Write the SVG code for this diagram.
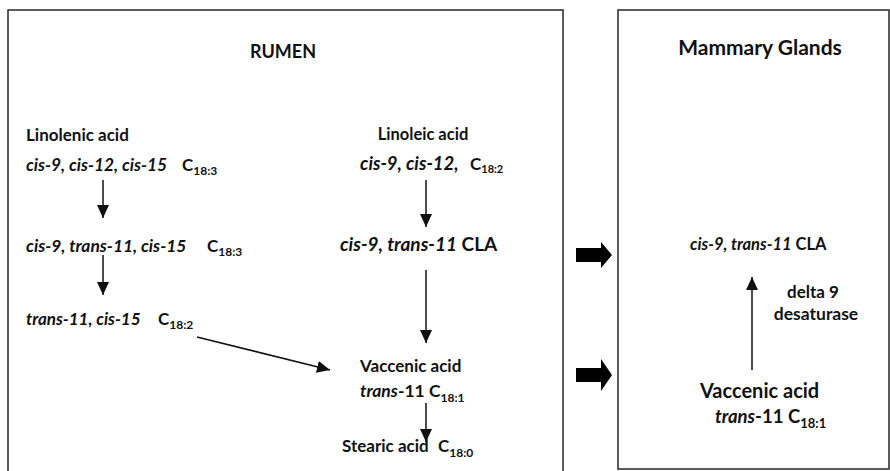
<svg xmlns="http://www.w3.org/2000/svg" width="890" height="471" viewBox="0 0 890 471">
<defs>
<marker id="ah" viewBox="0 0 13 12" refX="13" refY="6" markerWidth="13" markerHeight="12" markerUnits="userSpaceOnUse" orient="auto">
<path d="M0,0 L13,6 L0,12 z" fill="#111"/>
</marker>
</defs>
<style>
.box{fill:#fff;stroke:#333;stroke-width:1.6}
text{font-family:Lato,"Liberation Sans",sans-serif;font-weight:bold;fill:#111;font-size:17px}
.i{font-style:italic}
.sub{font-size:12px}
.line{stroke:#111;stroke-width:1.5;fill:none;marker-end:url(#ah)}
.fat{fill:#000}
</style>
<rect width="890" height="471" fill="#fff"/>
<g id="rumen">
<rect class="box" x="8" y="10" width="555" height="470"/>
<text x="283" y="58" text-anchor="middle" style="font-size:18px">RUMEN</text>
</g>
<g id="mammary">
<rect class="box" x="618" y="10" width="271" height="459"/>
<text x="760" y="55" text-anchor="middle" style="font-size:21px">Mammary Glands</text>
</g>
<g id="linolenic">
<text x="26" y="141">Linolenic acid</text>
<text class="i" x="26" y="171" style="font-size:17.3px">cis-9, cis-12, cis-15</text>
<text x="182" y="171">C<tspan class="sub" dy="4">18:3</tspan></text>
</g>
<g id="c18-3-t11">
<text class="i" x="26" y="252" style="font-size:17.4px">cis-9, trans-11, cis-15</text>
<text x="207" y="252">C<tspan class="sub" dy="4">18:3</tspan></text>
</g>
<g id="c18-2-t11">
<text class="i" x="26" y="325">trans-11, cis-15</text>
<text x="158" y="325">C<tspan class="sub" dy="4">18:2</tspan></text>
</g>
<g id="linoleic">
<text x="423" y="140" text-anchor="middle" style="font-size:16.5px">Linoleic acid</text>
<text class="i" x="360" y="170" style="font-size:18.5px">cis-9, cis-12,</text>
<text x="470" y="170">C<tspan style="font-size:11px" dy="3">18:2</tspan></text>
</g>
<g id="cla-rumen">
<text x="340" y="251" style="font-size:19px"><tspan class="i">cis-9, trans-11</tspan> CLA</text>
</g>
<g id="vaccenic-rumen">
<text x="360" y="372">Vaccenic acid</text>
<text x="360" y="397" style="font-size:17.5px"><tspan class="i">trans</tspan>-11 C<tspan class="sub" dy="5">18:1</tspan></text>
</g>
<g id="stearic">
<text x="342" y="452">Stearic acid</text>
<text x="438" y="452">C<tspan class="sub" dy="5">18:0</tspan></text>
</g>
<g id="cla-mammary">
<text x="690" y="250" style="font-size:16.5px"><tspan class="i">cis-9, trans-11</tspan> CLA</text>
</g>
<g id="enzyme">
<text x="813" y="298" text-anchor="middle" style="font-size:17px">delta 9</text>
<text x="816" y="320" text-anchor="middle" style="font-size:17.5px">desaturase</text>
</g>
<g id="vaccenic-mammary">
<text x="700" y="398" style="font-size:20px">Vaccenic acid</text>
<text x="715" y="423" style="font-size:18.5px"><tspan class="i">trans</tspan>-11 C<tspan style="font-size:13px" dy="5">18:1</tspan></text>
</g>
<g id="connectors">
<line class="line" x1="103" y1="180" x2="103" y2="218"/>
<line class="line" x1="103" y1="255" x2="103" y2="295"/>
<line class="line" x1="197" y1="337" x2="330" y2="370"/>
<line class="line" x1="426" y1="180" x2="426" y2="227"/>
<line class="line" x1="426" y1="270" x2="426" y2="343"/>
<line class="line" x1="426" y1="403" x2="426" y2="442"/>
<line class="line" x1="752" y1="370" x2="752" y2="277"/>
<path class="fat" d="M576,248 H601 V242 L612,255 L601,268 V262 H576 z"/>
<path class="fat" d="M576,368 H601 V359 L612,375 L601,391 V382 H576 z"/>
</g>
</svg>
